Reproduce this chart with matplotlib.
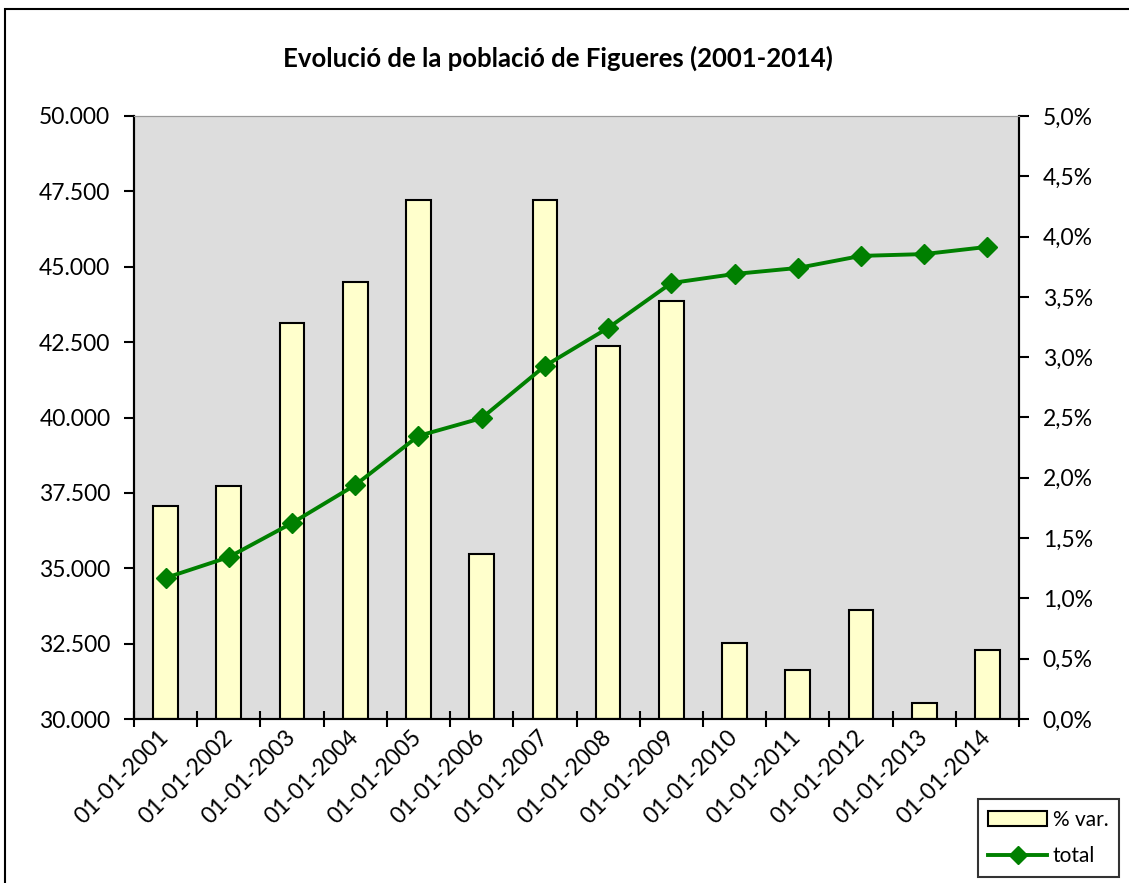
import numpy as np
import matplotlib
matplotlib.use("Agg")
import matplotlib.pyplot as plt
from matplotlib.patches import Rectangle
from matplotlib.lines import Line2D
from matplotlib.ticker import FuncFormatter, MultipleLocator

plt.rcParams["font.family"] = ["Lato", "DejaVu Sans"]

# data
dates = ["01-01-2001", "01-01-2002", "01-01-2003", "01-01-2004", "01-01-2005",
         "01-01-2006", "01-01-2007", "01-01-2008", "01-01-2009", "01-01-2010",
         "01-01-2011", "01-01-2012", "01-01-2013", "01-01-2014"]
total = [34680, 35370, 36500, 37760, 39390, 39980, 41710,
         42970, 44460, 44760, 44960, 45360, 45420, 45660]
pct_var = [1.77, 1.93, 3.28, 3.62, 4.30, 1.37, 4.30,
           3.09, 3.47, 0.63, 0.41, 0.90, 0.13, 0.57]

title = "Evolució de la població de Figueres (2001-2014)"
green = "#008000"
bar_color = "#FFFFCC"

fig = plt.figure(figsize=(11.29, 8.83), dpi=100)
# outer chart border
fig.patches.append(Rectangle((5 / 1129, -0.02), 1.1, 1 - 9 / 883 + 0.02,
                             transform=fig.transFigure, fill=False,
                             edgecolor="black", linewidth=1.5))

ax = fig.add_axes([134 / 1129, 1 - 719 / 883, (1019 - 134) / 1129, (719 - 116) / 883])
ax2 = ax.twinx()
ax.set_zorder(2)
ax2.set_zorder(1)
ax.patch.set_visible(False)
ax2.patch.set_visible(True)
ax2.patch.set_facecolor("#DDDDDD")

x = np.arange(len(dates))

# bars on the right axis (% var.)
ax2.bar(x, pct_var, width=0.39, color=bar_color, edgecolor="black", linewidth=1.5)
ax2.set_ylim(0, 5)
ax2.yaxis.set_major_locator(MultipleLocator(0.5))
ax2.yaxis.set_major_formatter(FuncFormatter(lambda v, p: f"{v:.1f}%".replace(".", ",")))

# line on the left axis (total)
ax.plot(x, total, color=green, linewidth=2.8, marker="D", markersize=10,
        markeredgecolor=green)
ax.set_ylim(30000, 50000)
ax.yaxis.set_major_locator(MultipleLocator(2500))
ax.yaxis.set_major_formatter(FuncFormatter(lambda v, p: f"{int(v):,}".replace(",", ".")))

ax.set_xlim(-0.5, len(dates) - 0.5)
ax.set_xticks(np.arange(-0.5, len(dates)), labels=[])
ax.set_xticks(x, labels=dates, minor=True)
ax.tick_params(axis="x", which="major", direction="inout", length=12, width=1.5)
ax.tick_params(axis="x", which="minor", length=0, labelsize=16.5, pad=11)
for lbl in ax.get_xticklabels(minor=True):
    lbl.set_rotation(45)
    lbl.set_ha("right")
    lbl.set_va("center")
    lbl.set_rotation_mode("anchor")

ax.tick_params(axis="y", direction="out", length=7, width=1.5, labelsize=16.5, pad=10)
ax2.tick_params(axis="y", direction="out", length=7, width=1.5, labelsize=16.5, pad=10)

for a in (ax, ax2):
    a.spines["top"].set_color("#999999")
    a.spines["left"].set_linewidth(1.5)
    a.spines["right"].set_linewidth(1.5)
    a.spines["bottom"].set_linewidth(1.5)

fig.text(558 / 1129, 1 - 58 / 883, title, ha="center", va="center",
         fontsize=18.5, fontweight="bold")

handles = [Rectangle((0, 0), 1, 1, facecolor=bar_color, edgecolor="black", linewidth=1.5),
           Line2D([], [], color=green, linewidth=2.8, marker="D", markersize=9)]
leg = fig.legend(handles, ["% var.", "total"], loc="center",
                 bbox_to_anchor=(975 / 1129, 1 - 878 / 883, 147 / 1129, 80 / 883),
                 fontsize=15, frameon=True, fancybox=False, edgecolor="black",
                 handlelength=2.8, handletextpad=0.3, labelspacing=0.8,
                 borderpad=0.5)
leg.get_frame().set_linewidth(1.5)

fig.savefig("out.png", dpi=100)
